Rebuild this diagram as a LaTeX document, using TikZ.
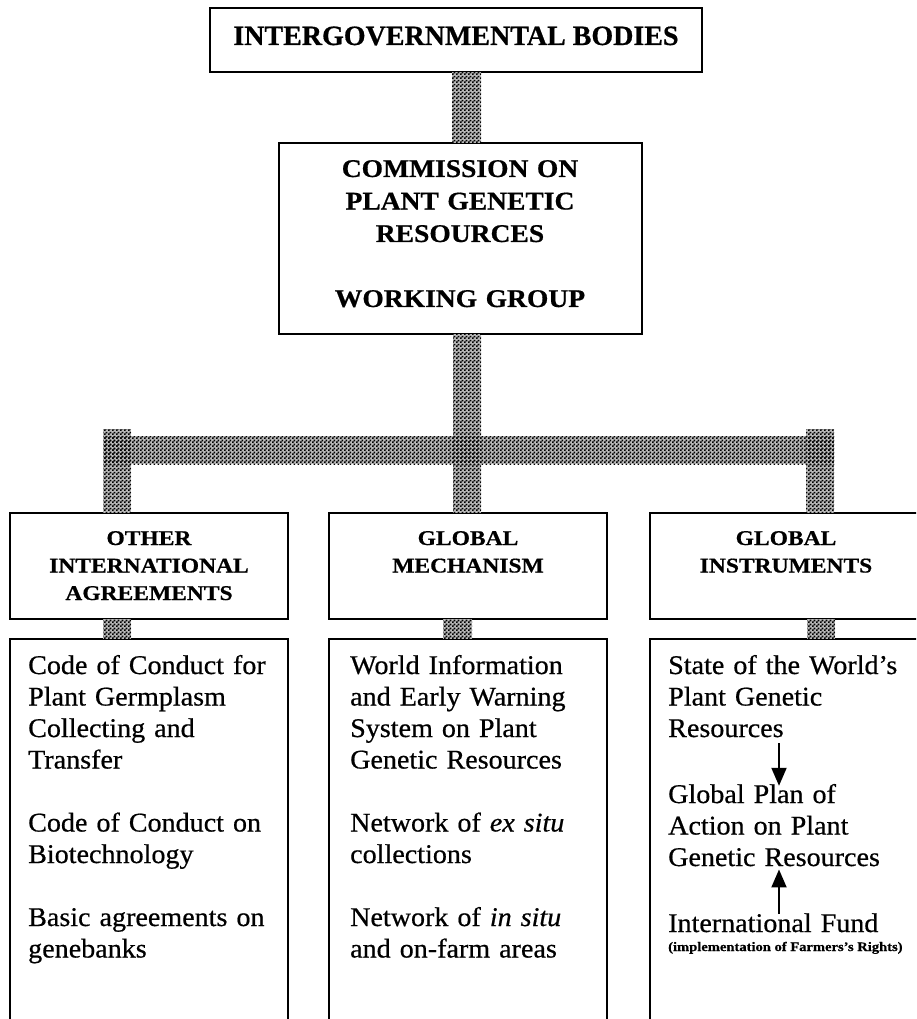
\documentclass[tikz,border=0pt]{standalone}
\usepackage{fontspec}
\setmainfont{Liberation Serif}[BoldFeatures={FakeBold=0.6}]
\newfontfamily\bodyfont{Liberation Serif}[FakeStretch=1.04, FakeBold=0.6, ItalicFeatures={FakeBold=0.6}]
\newfontfamily\subheadfont{Liberation Serif}[FakeStretch=1.12, BoldFeatures={FakeBold=0.6}]
\newfontfamily\commfont{Liberation Serif}[FakeStretch=1.08, BoldFeatures={FakeBold=0.6}]
\usetikzlibrary{arrows.meta,patterns.meta,calc}
\pgfdeclarepattern{
  name=checker,
  type=uncolored,
  bottom left={\pgfpoint{0pt}{0pt}},
  top right={\pgfpoint{4pt}{4pt}},
  tile size={\pgfpoint{4pt}{4pt}},
  code={
    \pgfpathrectangle{\pgfpoint{0pt}{0pt}}{\pgfpoint{2pt}{2pt}}
    \pgfpathrectangle{\pgfpoint{2pt}{2pt}}{\pgfpoint{2pt}{2pt}}
    \pgfusepath{fill}
  }
}
\begin{document}
\begin{tikzpicture}[x=1pt,y=-1pt,
  box/.style={draw=black, line width=1.7pt, inner sep=0pt, outer sep=0pt, anchor=north west},
  connbase/.style={fill=black!28},
  conn/.style={pattern={checker}, pattern color=black},
  toptext/.style={anchor=base, inner sep=0pt, font=\bfseries\fontsize{28}{33}\selectfont},
  commtext/.style={anchor=base, inner sep=0pt, align=center, text width=340pt, font=\commfont\bfseries\fontsize{25.5}{32.5}\selectfont},
  subhead/.style={anchor=base, inner sep=0pt, align=center, text width=260pt, font=\subheadfont\bfseries\fontsize{21}{27.5}\selectfont},
  bodytext/.style={anchor=base west, inner sep=0pt, align=left, text width=262pt, font=\bodyfont\fontsize{27}{31.5}\selectfont},
  smalltext/.style={anchor=base west, inner sep=0pt, font=\subheadfont\bfseries\fontsize{13}{15}\selectfont},
  arr/.style={line width=2pt, -{Triangle[width=15pt,length=18pt]}}
]
\useasboundingbox (0,0) rectangle (916,1019);
\fill[white] (0,0) rectangle (916,1019);
\clip (0,0) rectangle (916,1019);

% boxes
\node[box, minimum width=492pt, minimum height=64pt] (top) at (210,8) {};
\node[box, minimum width=363pt, minimum height=191pt] (comm) at (279,143) {};
\node[box, minimum width=278pt, minimum height=106pt] (lhead) at (10,513) {};
\node[box, minimum width=278pt, minimum height=106pt] (mhead) at (329,513) {};
\node[box, minimum width=290pt, minimum height=106pt] (rhead) at (650,513) {};
\node[box, minimum width=278pt, minimum height=400pt] (lbody) at (10,639) {};
\node[box, minimum width=278pt, minimum height=400pt] (mbody) at (329,639) {};
\node[box, minimum width=290pt, minimum height=400pt] (rbody) at (650,639) {};

% connectors
\coordinate (busL) at (103,436);
\coordinate (busR) at (834,464);
\foreach \s in {connbase,conn}{
  \fill[\s] ($(top.south)+(-4,0)$) rectangle ($(comm.north)+(20.5,0)$);
  \fill[\s] ($(comm.south)+(-7.5,0)$) rectangle ($(mhead.north)+(13,0)$);
  \fill[\s] (busL) rectangle (busR);
  \fill[\s] ($(lhead.north)+(-46,0)$) rectangle ($(busL)+(28,-7)$);
  \fill[\s] ($(rhead.north)+(11,0)$) rectangle ($(busR)+(0,-35)$);
  \fill[\s] ($(lhead.south)+(-46,0)$) rectangle ($(lbody.north)+(-18,0)$);
  \fill[\s] ($(mhead.south)+(-25,0)$) rectangle ($(mbody.north)+(4,0)$);
  \fill[\s] ($(rhead.south)+(12,0)$) rectangle ($(rbody.north)+(40,0)$);
}

% texts
\node[toptext] (tIG) at (456,45) {INTERGOVERNMENTAL BODIES};
\node[commtext] (tcomm) at (460,177) {COMMISSION ON\\PLANT GENETIC\\RESOURCES\\[32.5pt]WORKING GROUP};
\node[subhead] (tla) at (149,545) {OTHER\\INTERNATIONAL\\AGREEMENTS};
\node[subhead] (tma) at (468,545) {GLOBAL\\MECHANISM};
\node[subhead] (tra) at (786,545) {GLOBAL\\INSTRUMENTS};

\node[bodytext] (ta) at (28,674) {Code of Conduct for\\Plant Germplasm\\Collecting and\\Transfer\\[31.5pt]Code of Conduct on\\Biotechnology\\[31.5pt]Basic agreements on\\genebanks};
\node[bodytext] (tb) at (350,674) {World Information\\and Early Warning\\System on Plant\\Genetic Resources\\[31.5pt]Network of \textit{ex situ}\\collections\\[31.5pt]Network of \textit{in situ}\\and on-farm areas};
\node[bodytext] (tc1) at (668,674) {State of the World’s\\Plant Genetic\\Resources};
\node[bodytext] (tc2) at (668,803) {Global Plan of\\Action on Plant\\Genetic Resources};
\node[bodytext] (tc3) at (668,932) {International Fund};
\node[smalltext] (tc4) at (668,951) {(implementation of Farmers’s Rights)};

% arrows
\coordinate (ax) at (779,0);
\draw[arr, shorten <=6pt] (tc1.south -| ax) -- ($(tc2.north -| ax)+(0,2)$);
\draw[arr] ($(tc3.north -| ax)+(0,1)$) -- ($(tc2.south -| ax)+(0,3)$);
\end{tikzpicture}
\end{document}
